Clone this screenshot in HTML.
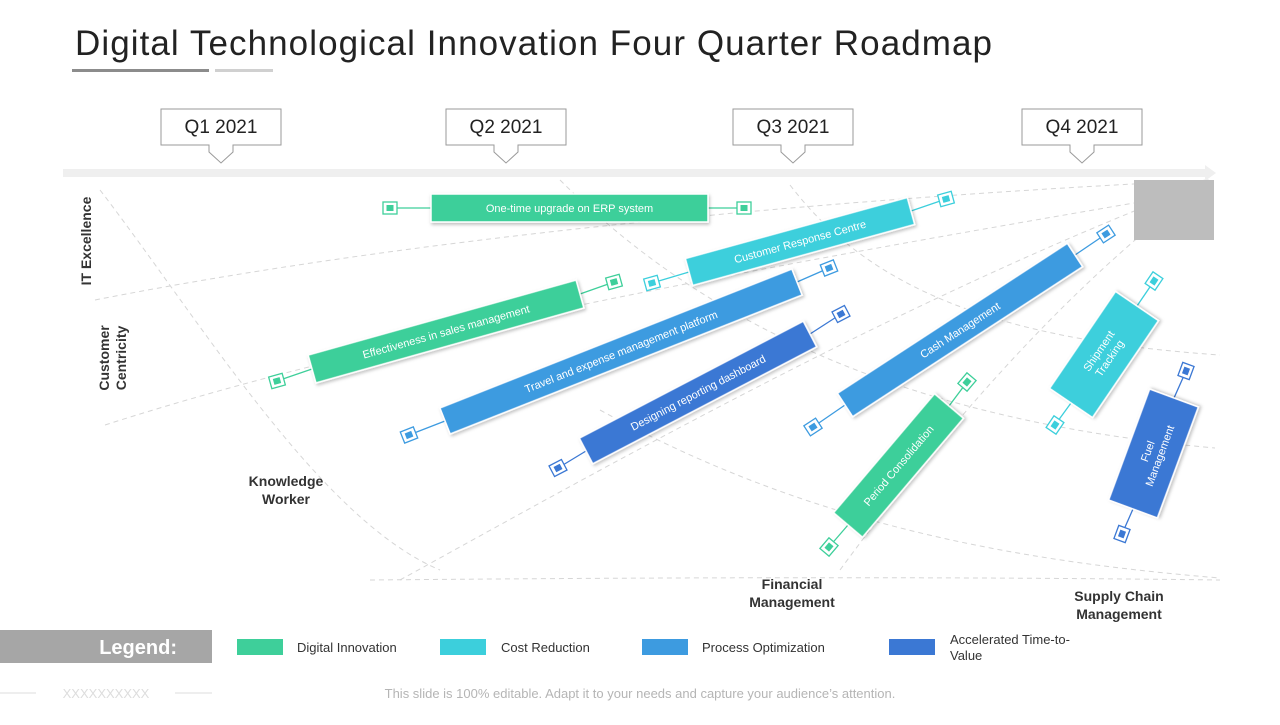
<!DOCTYPE html>
<html><head><meta charset="utf-8"><style>
html,body{margin:0;padding:0;background:#fff;}
body{width:1280px;height:720px;overflow:hidden;font-family:"Liberation Sans",sans-serif;}
</style></head><body>
<svg width="1280" height="720" viewBox="0 0 1280 720" xmlns="http://www.w3.org/2000/svg" font-family="Liberation Sans, sans-serif">
<defs>
<filter id="sh" x="-10%" y="-30%" width="120%" height="160%"><feDropShadow dx="1" dy="2" stdDeviation="1.5" flood-color="#000" flood-opacity="0.25"/></filter>
</defs>
<text x="75" y="55" font-size="35" textLength="917" lengthAdjust="spacing" fill="#222">Digital Technological Innovation Four Quarter Roadmap</text>
<rect x="72" y="69" width="137" height="3" fill="#8c8c8c"/>
<rect x="215" y="69" width="58" height="3" fill="#d0d0d0"/>

<g id="grid" fill="none" stroke="#d6d6d6" stroke-width="1" stroke-dasharray="5,4">
<path d="M100 190 C200 320 320 520 440 570"/>
<path d="M400 580 C600 470 900 300 1200 185"/>
<path d="M95 300 C400 240 800 200 1210 180"/>
<path d="M105 425 C400 330 800 260 1210 190"/>
<path d="M560 180 C700 320 900 420 1215 448"/>
<path d="M790 185 C870 290 1000 340 1220 355"/>
<path d="M600 410 C800 520 1000 560 1220 578"/>
<path d="M840 570 C950 420 1060 300 1165 215"/>
<path d="M370 580 C600 578 900 576 1220 580"/>
</g>

<rect x="63" y="169" width="1145" height="8" fill="#efefef"/>
<polygon points="1205,165 1216,173 1205,181" fill="#efefef"/>
<rect x="1134" y="180" width="80" height="60" fill="#bdbdbd"/>

<g id="quarters"></g>
<g id="bars"></g>

<g fill="#333" font-weight="bold" font-size="14" text-anchor="middle">
<text transform="translate(91,241) rotate(-90)">IT Excellence</text>
<text transform="translate(117,358) rotate(-90)"><tspan x="0" y="-8">Customer</tspan><tspan x="0" y="9">Centricity</tspan></text>
<text x="286" y="486">Knowledge<tspan x="286" dy="18">Worker</tspan></text>
<text x="792" y="589">Financial<tspan x="792" dy="18">Management</tspan></text>
<text x="1119" y="601">Supply Chain<tspan x="1119" dy="18">Management</tspan></text>
</g>

<g>
<rect x="0" y="630" width="212" height="33" fill="#a6a6a6"/>
<text x="177" y="654" font-size="20" font-weight="bold" fill="#fff" text-anchor="end">Legend:</text>
<rect x="237" y="639" width="46" height="16" fill="#3ecf9a"/>
<text x="297" y="652" font-size="13" fill="#333">Digital Innovation</text>
<rect x="440" y="639" width="46" height="16" fill="#3ccfdc"/>
<text x="501" y="652" font-size="13" fill="#333">Cost Reduction</text>
<rect x="642" y="639" width="46" height="16" fill="#3d9be0"/>
<text x="702" y="652" font-size="13" fill="#333">Process Optimization</text>
<rect x="889" y="639" width="46" height="16" fill="#3b78d4"/>
<text x="950" y="644" font-size="13" fill="#333">Accelerated Time-to-<tspan x="950" dy="16">Value</tspan></text>
</g>
<line x1="0" y1="693" x2="36" y2="693" stroke="#ddd"/>
<line x1="175" y1="693" x2="212" y2="693" stroke="#ddd"/>
<text x="106" y="698" font-size="13" fill="#ddd" text-anchor="middle">XXXXXXXXXX</text>
<text x="640" y="698" font-size="13" fill="#b5b5b5" text-anchor="middle">This slide is 100% editable. Adapt it to your needs and capture your audience’s attention.</text>
</svg>
<script>
const quarters = ["Q1 2021","Q2 2021","Q3 2021","Q4 2021"];
const quarterX = [221,506,793,1082];
const items = ["One-time upgrade on ERP system","Customer Response Centre","Effectiveness in sales management","Travel  and expense management platform","Designing reporting dashboard","Cash Management","Period Consolidation","Shipment|Tracking","Fuel|Management"];
const itemCategory = [0,1,0,2,3,2,0,1,3];
const barStart = [[431,208],[689,272],[312,369],[445,421],[586,451],[845,405],[848,525],[1071,403],[1133,509]];
const barEnd = [[708,208],[911,211],[580,294],[797,282],[810,334],[1075,255],[949,406],[1137,306],[1174,398]];
const markerStart = [[390,208],[652,283],[277,381],[409,435],[558,468],[813,427],[829,547],[1055,425],[1122,534]];
const markerEnd = [[744,208],[946,199],[614,282],[829,268],[841,314],[1106,234],[967,382],[1154,281],[1186,371]];
const barWidth = [28,28,29,28,29,28,38,52,52];
const colors = ["#3ecf9a","#3ccfdc","#3d9be0","#3b78d4"];
const NS="http://www.w3.org/2000/svg";
function mk(tag,attrs,parent){const e=document.createElementNS(NS,tag);for(const k in attrs)e.setAttribute(k,attrs[k]);parent.appendChild(e);return e;}
const qg=document.getElementById('quarters');
quarters.forEach((q,i)=>{
  const cx=quarterX[i];
  const p=mk('path',{fill:'#fff',stroke:'#9a9a9a','stroke-width':1},qg);
  p.setAttribute('d',`M${cx-60} 109 H${cx+60} V145 H${cx+12} V152 L${cx} 163 L${cx-12} 152 V145 H${cx-60} Z`);
  
  
  const t=mk('text',{x:cx,y:133,'font-size':19,fill:'#222','text-anchor':'middle'},qg);
  t.textContent=q;
  
  
});
const bg=document.getElementById('bars');
items.forEach((label,i)=>{
  const c=colors[itemCategory[i]];
  const [x1,y1]=barStart[i],[x2,y2]=barEnd[i];
  const g=mk('g',{},bg);
  
  
  mk('line',{x1:markerStart[i][0],y1:markerStart[i][1],x2:x1,y2:y1,stroke:c,'stroke-width':1.3},g);
  mk('line',{x1:x2,y1:y2,x2:markerEnd[i][0],y2:markerEnd[i][1],stroke:c,'stroke-width':1.3},g);
  const ang=Math.atan2(y2-y1,x2-x1)*180/Math.PI;
  const len=Math.hypot(x2-x1,y2-y1);
  const w=barWidth[i];
  const r=mk('rect',{x:-len/2,y:-w/2,width:len,height:w,fill:c,stroke:'#fff','stroke-width':1.5,filter:'url(#sh)',transform:`translate(${(x1+x2)/2},${(y1+y2)/2}) rotate(${ang})`},g);
  
  
  const lines=label.split('|');
  const t=mk('text',{'font-size':11,fill:'#fff','text-anchor':'middle',transform:`translate(${(x1+x2)/2},${(y1+y2)/2}) rotate(${ang})`},g);
  lines.forEach((ln,k)=>{const ts=mk('tspan',{x:0,y:4+(k-(lines.length-1)/2)*13},t);ts.textContent=ln;});
  
  
  [markerStart[i],markerEnd[i]].forEach(m=>{
    const mg=mk('g',{transform:`translate(${m[0]},${m[1]}) rotate(${ang})`},g);
    
    
    mk('rect',{x:-7,y:-6,width:14,height:12,fill:'#fff',stroke:c,'stroke-width':1.3},mg);
    mk('rect',{x:-3.5,y:-3,width:7,height:6,fill:c},mg);
  });
});
</script>
</body></html>
